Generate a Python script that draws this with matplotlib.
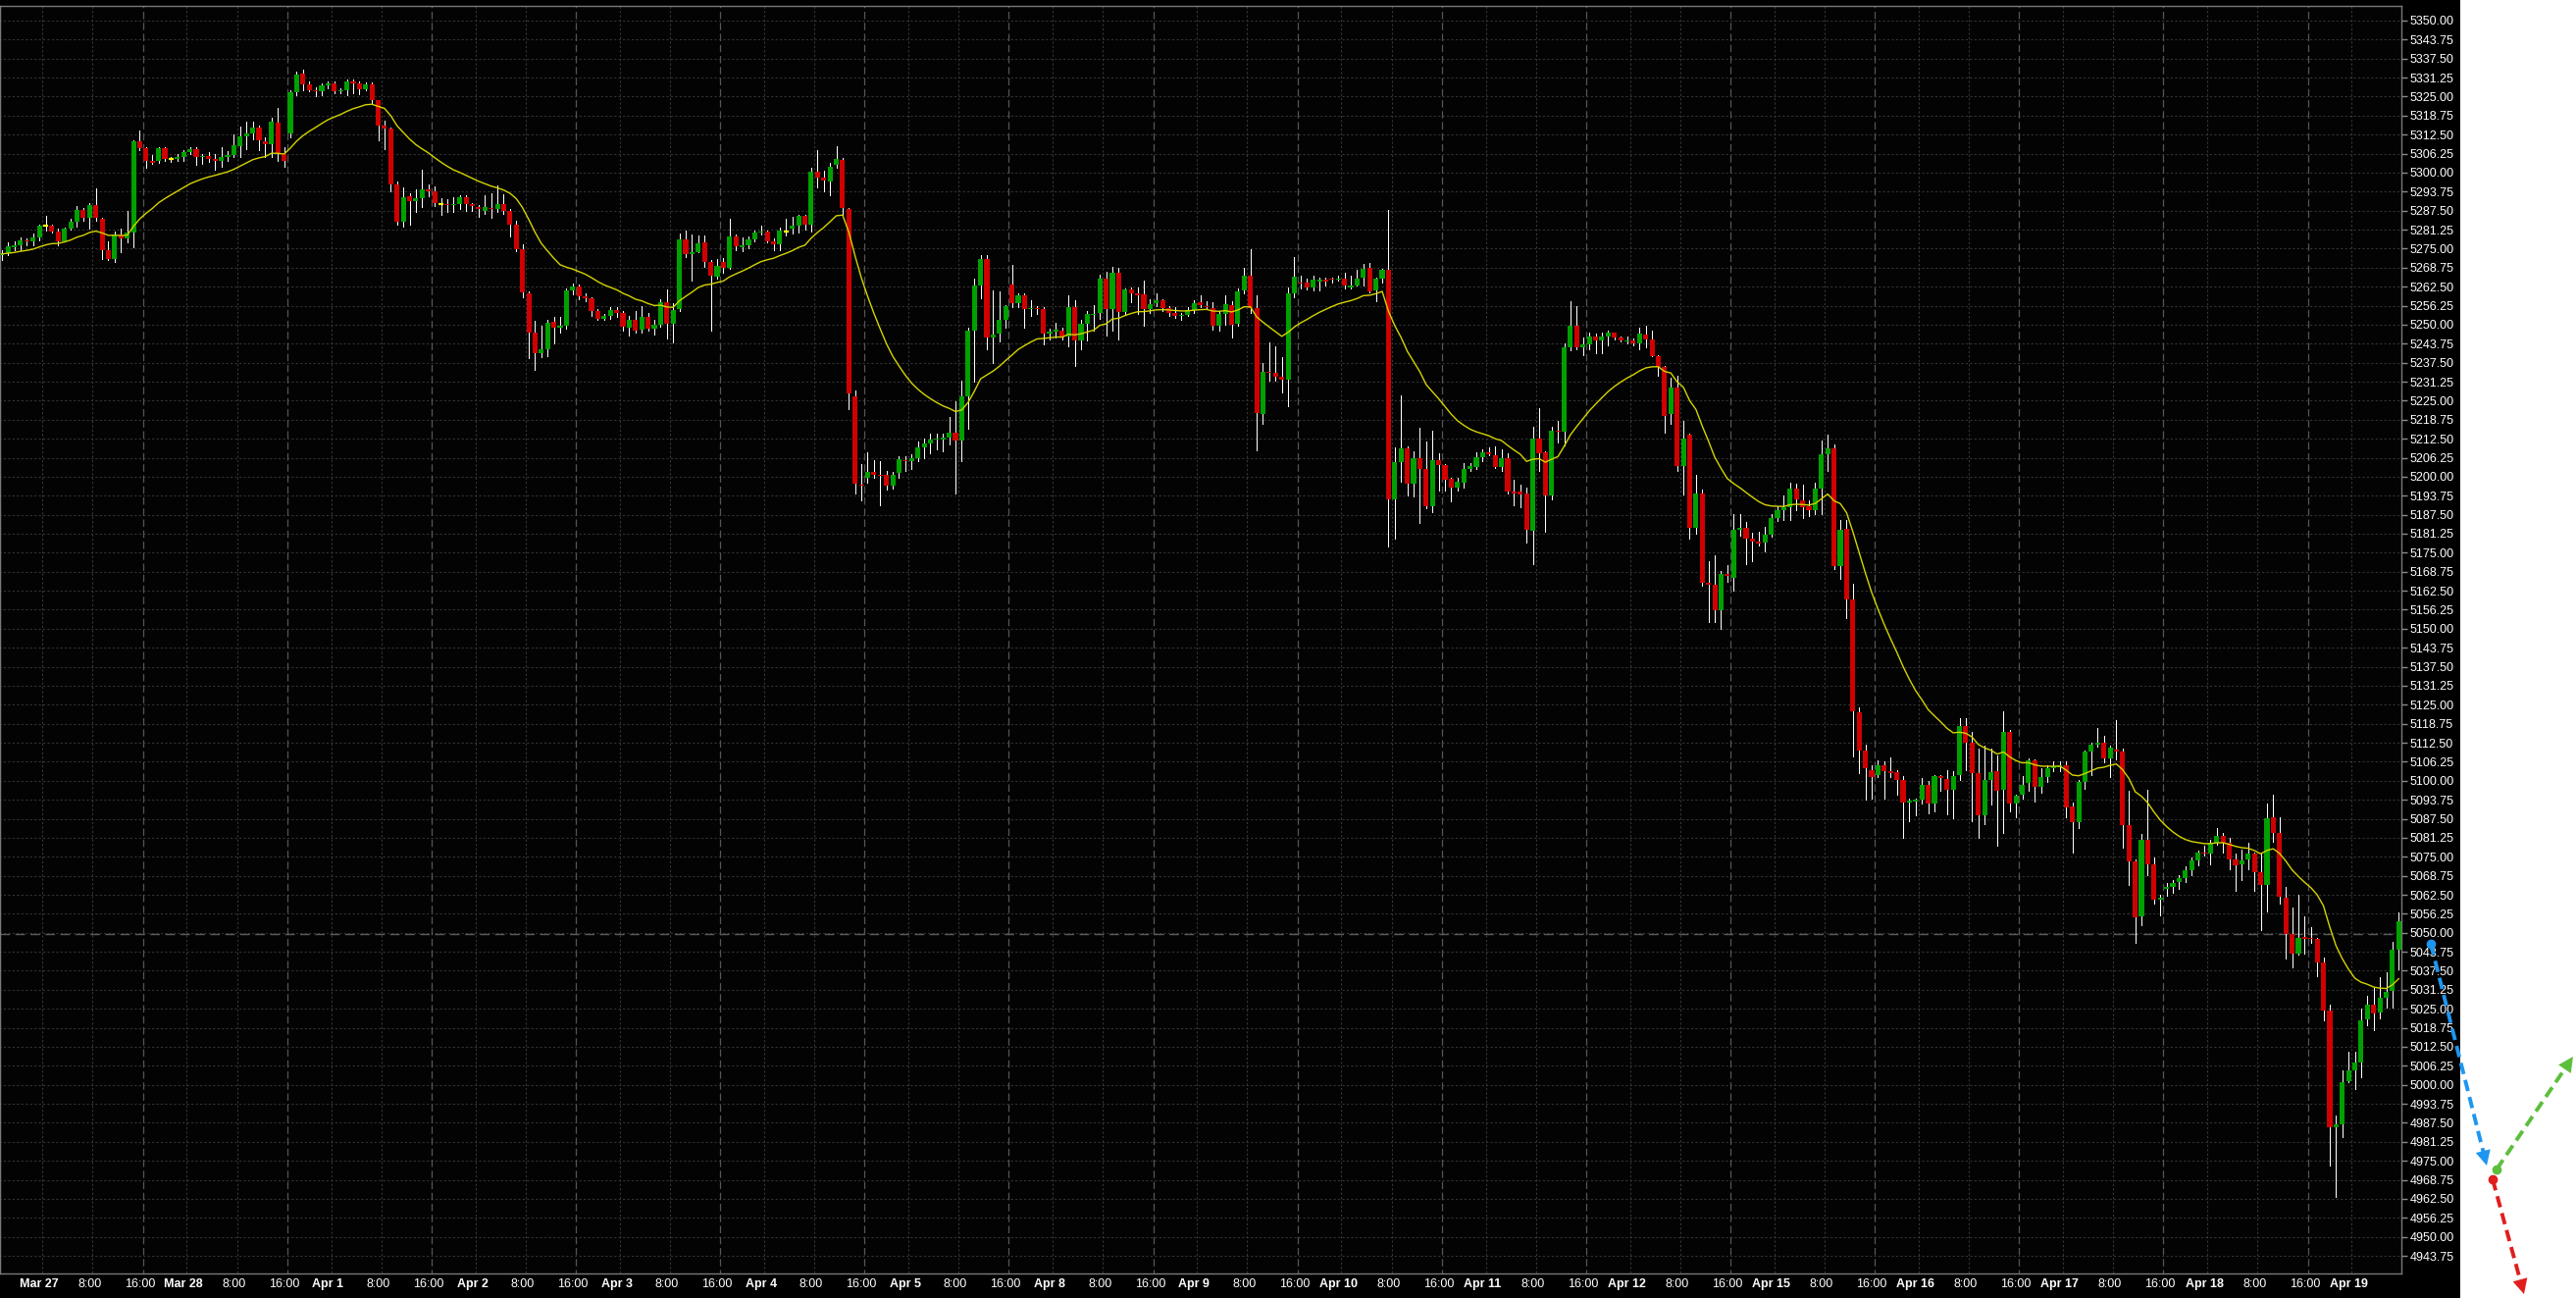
import numpy as np
import pandas as pd
import matplotlib
matplotlib.use("Agg")
import matplotlib.pyplot as plt
import matplotlib.transforms as mtransforms
from matplotlib.lines import Line2D
from matplotlib.patches import Rectangle, FancyArrowPatch

plt.rcParams["font.family"] = ["Liberation Sans", "DejaVu Sans"]

# hourly bars, 23 per session, first bar = 7 bars before "Mar 27" midnight
opens = [
    5272.75, 5273.5, 5275.5, 5276, 5277.75, 5277.25, 5278.75, 5282.5, 5282.5, 5280.5,
    5277.5, 5281.5, 5283.75, 5287.75, 5285, 5289.25, 5284.75, 5274.5, 5271.75, 5279.75,
    5278.5, 5280.25, 5310.25, 5308, 5304, 5304, 5308, 5304.5, 5304.5, 5305.25,
    5306.75, 5307.75, 5305, 5305.5, 5304.5, 5304, 5305.25, 5305.75, 5308.75, 5312,
    5312.75, 5314.75, 5310.25, 5309.5, 5316.5, 5306, 5313, 5326.5, 5332.5, 5329,
    5327.25, 5326.75, 5328.75, 5329.5, 5326.75, 5327, 5330, 5329.25, 5327.5, 5329,
    5323.75, 5315.5, 5314.5, 5296.25, 5284, 5292.25, 5290.5, 5291.75, 5294.5, 5294,
    5289.5, 5289.75, 5289.25, 5289.75, 5292, 5289.75, 5288.75, 5287.5, 5288.5, 5288,
    5289.5, 5287.5, 5283, 5274.75, 5260.25, 5247.25, 5240.5, 5242, 5251, 5249,
    5249.5, 5261.25, 5262.5, 5259.25, 5258.75, 5254.5, 5252, 5252.75, 5254.75, 5253.75,
    5249, 5251.5, 5248.25, 5252.5, 5248.75, 5250, 5257.5, 5250.25, 5255, 5278,
    5273.25, 5274, 5277, 5270.75, 5265.75, 5270.5, 5268.75, 5279, 5275.5, 5276.25,
    5278, 5280.25, 5280.5, 5277.25, 5276.5, 5280.75, 5281.5, 5282.5, 5285.75, 5283,
    5300.25, 5298.25, 5297, 5302.5, 5304.25, 5288, 5226.5, 5197.5, 5199.5, 5201.5,
    5200.75, 5200.75, 5197, 5201.25, 5205.5, 5205, 5206, 5209.5, 5211, 5212.25,
    5212.25, 5212.75, 5214.5, 5211.75, 5226.5, 5248, 5262.75, 5271.5, 5245.75, 5247,
    5251.5, 5263.25, 5257, 5259.5, 5255, 5255.5, 5255, 5247, 5247.75, 5248,
    5246, 5255.75, 5244.75, 5250.25, 5253.25, 5253.75, 5265, 5255, 5267, 5254.25,
    5261.5, 5260.25, 5260, 5255, 5257, 5258, 5255.5, 5254, 5252.75, 5253.25,
    5254.75, 5257.25, 5256.25, 5255.5, 5249.5, 5253.5, 5256.5, 5250.25, 5261.25, 5266,
    5255.5, 5220.75, 5234.5, 5234.25, 5233, 5231.75, 5260.25, 5264, 5263.75, 5262.25,
    5264.25, 5264.75, 5265, 5264.75, 5265, 5262.25, 5263, 5265.5, 5268.75, 5261.25,
    5265, 5268, 5192.5, 5204.75, 5209.25, 5197.75, 5206, 5202.5, 5190.25, 5205.5,
    5203.75, 5199.25, 5196.25, 5198, 5202.5, 5203.25, 5206.5, 5208, 5207, 5203.25,
    5206.25, 5195, 5195, 5194.5, 5182.25, 5212.5, 5208, 5193.75, 5215.25, 5214.75,
    5242.5, 5249.5, 5242.5, 5243.5, 5246, 5244.75, 5246, 5247.25, 5245.75, 5244.5,
    5244.75, 5244, 5246.75, 5245, 5239.75, 5236, 5220.5, 5229.25, 5203.5, 5213.75,
    5183.25, 5194.5, 5165.25, 5164.5, 5156, 5168, 5166.75, 5182.5, 5183.25, 5179.75,
    5178.75, 5178.25, 5181, 5186.5, 5189, 5190, 5196, 5192.25, 5190.25, 5189,
    5196, 5207.5, 5209.25, 5170.75, 5182.75, 5159.75, 5122.5, 5110, 5103.5, 5102,
    5105.25, 5103, 5102.75, 5100.25, 5092.75, 5093.25, 5093.75, 5098.5, 5092.5, 5101.5,
    5100.5, 5097, 5102, 5118, 5112.5, 5102.5, 5088.75, 5100.25, 5103, 5097,
    5116, 5092.5, 5095.5, 5099.25, 5106.75, 5098, 5101.25, 5104.25, 5104.5, 5105,
    5091.5, 5086.25, 5099.75, 5109.5, 5111.75, 5112.5, 5107.25, 5110.25, 5109.75, 5085.5,
    5073.5, 5055.25, 5080.5, 5072.5, 5061, 5064.5, 5065, 5066.75, 5068, 5070.5,
    5073.75, 5076.5, 5076, 5079.5, 5081.75, 5079.75, 5074, 5072.5, 5074, 5076,
    5070, 5065.75, 5088, 5082.75, 5061.5, 5049.75, 5043, 5048.5, 5048.25, 5048,
    5040.25, 5024.5, 4986, 4987, 5001.25, 5004.75, 5007.25, 5021.5, 5026.5, 5023.75,
    5028.5, 5030.75, 5044.5,
]
highs = [
    5274.5, 5277, 5277.25, 5278.75, 5278.5, 5280, 5283, 5285.75, 5283, 5281.5,
    5282, 5284.75, 5289, 5288.5, 5290, 5294.75, 5285.25, 5277.25, 5280.5, 5281.5,
    5287.5, 5310.75, 5314, 5308.5, 5305.75, 5308.5, 5308.5, 5305.25, 5306, 5307.5,
    5308.25, 5308.5, 5306, 5306.75, 5306.25, 5308.5, 5307, 5312.5, 5315, 5316.75,
    5316.75, 5315.5, 5311.5, 5318, 5321.25, 5308.5, 5327.25, 5333.25, 5333.75, 5330,
    5328, 5329.5, 5330, 5330, 5327.75, 5330.75, 5330.5, 5330, 5329.75, 5329.75,
    5324, 5317, 5314.75, 5297, 5295.25, 5293.25, 5294.5, 5301, 5296, 5295.5,
    5291.5, 5291.25, 5292, 5292.5, 5292.5, 5290, 5289.25, 5292.5, 5293.25, 5295.75,
    5292.75, 5288, 5284.25, 5276.5, 5261, 5251.25, 5249.5, 5251.5, 5252.5, 5252.5,
    5261.75, 5263.5, 5263.25, 5260.25, 5259, 5255, 5253.5, 5255.75, 5255.75, 5254.5,
    5252.75, 5254.5, 5256, 5253.75, 5251.5, 5258.5, 5261.5, 5257, 5280, 5281,
    5279.75, 5279.25, 5279.25, 5271.25, 5271.5, 5272, 5284.75, 5279.5, 5278.75, 5279,
    5281, 5282.5, 5281, 5278.25, 5282, 5284.75, 5285.5, 5286.25, 5286.25, 5301.5,
    5307.25, 5300.75, 5303.25, 5308.75, 5304.75, 5288.5, 5228.25, 5204, 5208, 5205.5,
    5205, 5202, 5201.5, 5206.75, 5206.75, 5207.5, 5211.5, 5212.5, 5214.25, 5214.25,
    5214, 5219.5, 5224.75, 5231.5, 5249, 5265, 5272.75, 5272.75, 5261.25, 5261,
    5256.5, 5269.5, 5260.25, 5260.25, 5258, 5256.25, 5255.75, 5248.75, 5250.5, 5249,
    5259.5, 5258, 5251.5, 5254.5, 5256.5, 5266.5, 5267.25, 5269, 5268.75, 5262,
    5262.25, 5262.25, 5264.5, 5258.5, 5260.25, 5258.5, 5256, 5255.75, 5254, 5255.75,
    5258, 5259.5, 5257.75, 5257.5, 5254.5, 5259.5, 5257.75, 5262, 5268.75, 5274.75,
    5259.5, 5237.5, 5244.25, 5242.75, 5239.25, 5262.25, 5272.25, 5266, 5265, 5266,
    5265.5, 5265.5, 5265.5, 5266.25, 5267, 5266, 5268, 5270, 5270.25, 5265.5,
    5268.5, 5287.75, 5209.5, 5226.75, 5210, 5208.25, 5216, 5211.5, 5215.25, 5207.75,
    5204.25, 5199.5, 5199.5, 5204.5, 5204.5, 5208, 5209, 5209.5, 5210, 5209,
    5207.75, 5199, 5197.5, 5196.5, 5216.5, 5222.5, 5208.5, 5216.5, 5218.5, 5244,
    5257.75, 5256.25, 5245.75, 5247.25, 5247, 5247.25, 5248, 5247.5, 5246.25, 5246,
    5245.5, 5249, 5249.5, 5248, 5240, 5236.5, 5232.5, 5233.25, 5218.5, 5214.25,
    5200.5, 5195.75, 5172.25, 5174, 5169, 5171, 5187.75, 5187.75, 5185.25, 5181.5,
    5181.75, 5183.5, 5187.75, 5190.25, 5193.75, 5198, 5197.75, 5197.5, 5192.25, 5198,
    5212, 5213.75, 5210.5, 5185.75, 5185.75, 5164.75, 5124.25, 5112, 5105, 5106.75,
    5106.25, 5107.75, 5103.5, 5101.5, 5094, 5094.25, 5101, 5100, 5102, 5102,
    5103.5, 5103, 5120.5, 5120.5, 5116, 5110.5, 5111.5, 5110.5, 5108.25, 5122.75,
    5116.75, 5095.5, 5101.5, 5107.25, 5107, 5104, 5105, 5106.25, 5106.25, 5106.25,
    5092.75, 5100.25, 5110, 5112.5, 5117.5, 5114.75, 5111.5, 5120, 5110.5, 5096.75,
    5074, 5082.5, 5097, 5074.75, 5062.5, 5066.5, 5067.5, 5069, 5071.75, 5074.75,
    5077, 5078.5, 5080.5, 5084.5, 5082.75, 5081.25, 5076, 5077.25, 5079.5, 5076.5,
    5076.5, 5092.5, 5095.5, 5088, 5065, 5058.25, 5062.5, 5055.5, 5051.75, 5048.25,
    5042, 5026.5, 4989.75, 5004.75, 5010.75, 5010.75, 5025, 5029.25, 5031.75, 5035.25,
    5037, 5047, 5056.75,
]
lows = [
    5271.25, 5273, 5274.5, 5274.5, 5276, 5276.25, 5277.75, 5281, 5280.25, 5276,
    5277.25, 5281.25, 5282.25, 5284.25, 5281.5, 5284.25, 5271.75, 5271.25, 5270.5, 5274,
    5277, 5275.5, 5307.25, 5301.5, 5302.75, 5303.25, 5304, 5303.5, 5303.75, 5304,
    5306, 5302.5, 5302.75, 5303.5, 5301, 5302, 5304, 5305.25, 5305, 5307.75,
    5311, 5307.5, 5305.25, 5305.25, 5304, 5302, 5311.5, 5325.5, 5327, 5326.75,
    5325, 5325.5, 5327.75, 5326, 5326.25, 5325.5, 5326, 5325.75, 5327.25, 5322.5,
    5310.5, 5307.75, 5294, 5283, 5282.25, 5283, 5287, 5288.75, 5292.25, 5289,
    5286.25, 5287, 5287, 5288, 5287.5, 5287.5, 5285.5, 5286.5, 5285, 5287,
    5286.5, 5279, 5274.25, 5259, 5239, 5235, 5239.25, 5239.5, 5243.75, 5247.5,
    5248.75, 5260, 5258.5, 5257.75, 5252.75, 5251.5, 5251.5, 5252, 5252.5, 5248,
    5246.5, 5247.5, 5247.5, 5248, 5246.75, 5249.25, 5245.5, 5244.25, 5254.5, 5272.25,
    5264.5, 5273.75, 5269, 5248, 5265, 5267, 5268.5, 5274.5, 5274.25, 5275.25,
    5277.5, 5279.75, 5277, 5274.5, 5274.5, 5279.25, 5280, 5280.25, 5281.25, 5280.5,
    5295.25, 5294, 5292.5, 5301.5, 5285.75, 5222.25, 5194.5, 5192.25, 5198, 5199.5,
    5190.5, 5195.75, 5196, 5199.5, 5202, 5202.5, 5205.25, 5206.25, 5207.75, 5209,
    5208.25, 5210.75, 5194.5, 5205.25, 5215.75, 5231.25, 5258.75, 5241.75, 5237.25, 5244.5,
    5249, 5255.75, 5255.75, 5249, 5252.75, 5253.5, 5243.5, 5245, 5245.75, 5245,
    5243, 5236.5, 5241.75, 5244.75, 5248, 5252, 5246.5, 5248, 5245, 5253.5,
    5257.5, 5253.5, 5249.5, 5253.75, 5256, 5254.5, 5253, 5252.25, 5251.5, 5252.75,
    5254, 5255.75, 5255.25, 5248.25, 5248, 5250, 5245.75, 5249.75, 5260.25, 5253.75,
    5208.75, 5217.25, 5231.5, 5231.5, 5227.75, 5223.25, 5259, 5262, 5261.5, 5261.25,
    5261.25, 5262.75, 5263.75, 5264.5, 5262, 5262, 5262.75, 5263, 5260.5, 5257.75,
    5264, 5177, 5179.5, 5198.5, 5193.75, 5193.5, 5184.75, 5189.5, 5188.5, 5195.5,
    5195.5, 5192, 5195.5, 5196.5, 5202, 5202.5, 5205.25, 5207, 5203, 5202,
    5194.5, 5190.5, 5190, 5178.5, 5171.25, 5202, 5181.75, 5192.5, 5211.25, 5210.25,
    5241.5, 5241.75, 5240, 5242, 5240.5, 5240.5, 5243.25, 5245.25, 5244.5, 5243.75,
    5243.25, 5241.75, 5242.5, 5239.5, 5233.25, 5214.5, 5217.25, 5202, 5194, 5179.5,
    5181.25, 5164.25, 5152.25, 5152.25, 5150, 5165.5, 5162.5, 5180.5, 5171.25, 5172.25,
    5177.5, 5175.5, 5180.25, 5185.5, 5185.75, 5185.75, 5189, 5186.5, 5187, 5187.75,
    5187.75, 5202, 5169.75, 5166.5, 5153.5, 5108, 5102.5, 5093.75, 5094, 5101.25,
    5094, 5101.25, 5095.5, 5081.25, 5086.75, 5088.5, 5092.5, 5089.25, 5090, 5096.75,
    5089, 5087.75, 5100.25, 5103.5, 5086.75, 5081.25, 5085.75, 5092.25, 5078.5, 5082.75,
    5090, 5088, 5094, 5096.75, 5093.25, 5096, 5099.75, 5103.25, 5103.25, 5088,
    5076.5, 5084.5, 5097.5, 5102, 5111.25, 5106, 5101.25, 5107, 5078, 5065.75,
    5046.75, 5052.5, 5069, 5059.5, 5055.75, 5062.25, 5063, 5064.5, 5066.75, 5069,
    5072.25, 5075.25, 5072.5, 5079, 5076.25, 5071, 5063.75, 5067.25, 5071, 5063.75,
    5050.75, 5057, 5080, 5059.5, 5041.5, 5038.5, 5042.75, 5043.25, 5046.75, 5035.75,
    5021.25, 4973.5, 4963.25, 4982.75, 5000.75, 4998.5, 5002.5, 5019.5, 5018, 5022,
    5025.25, 5025.25, 5038,
]
closes = [
    5273.25, 5275.75, 5276.25, 5277.75, 5277.25, 5278.75, 5282.5, 5282.5, 5280.75, 5277.5,
    5281.5, 5284, 5287.75, 5285, 5289.25, 5285, 5274.5, 5271.75, 5279.75, 5278.5,
    5280.25, 5310.25, 5308, 5304, 5303.25, 5308, 5304.5, 5304.5, 5305.25, 5306.75,
    5307.75, 5305.25, 5305.5, 5304.5, 5304, 5305.25, 5305.75, 5309, 5312, 5312.75,
    5314.75, 5310.5, 5309.5, 5316.75, 5306, 5304, 5326.5, 5332.25, 5329, 5327.25,
    5326.75, 5328.75, 5329.25, 5326.75, 5327, 5330, 5329.25, 5327.5, 5329, 5323.75,
    5315.5, 5314.5, 5296.25, 5284, 5292, 5290.5, 5291.75, 5294.5, 5294, 5290,
    5289.5, 5289.25, 5289.75, 5292, 5289.75, 5289, 5288, 5288.75, 5288, 5289.5,
    5287.5, 5283, 5274.75, 5260.5, 5247.25, 5240.5, 5242, 5250.5, 5249, 5249.5,
    5261.25, 5262.5, 5259.25, 5258.75, 5254.5, 5252, 5252.75, 5254.75, 5253.75, 5249.25,
    5251.5, 5248, 5252.5, 5248.75, 5250, 5257.5, 5250.25, 5254.75, 5278, 5273.25,
    5273.75, 5276.75, 5270.75, 5266, 5269.25, 5268.75, 5279, 5275.75, 5276.25, 5278,
    5280.25, 5280.5, 5277.25, 5276.5, 5281, 5280.75, 5282.5, 5285.75, 5283, 5300.25,
    5298.25, 5297.25, 5302, 5304.5, 5288.25, 5227.25, 5197.75, 5197, 5201.5, 5200.75,
    5200.25, 5197, 5200.75, 5205.75, 5205, 5206, 5209.5, 5211, 5212.25, 5212.5,
    5212.75, 5214.5, 5211.75, 5226.5, 5248, 5262.75, 5271.5, 5245.75, 5246.75, 5251.5,
    5256, 5257, 5259.5, 5255, 5255.5, 5255, 5247, 5247.75, 5248.25, 5245.75,
    5255.75, 5244.75, 5250.25, 5253.5, 5253.5, 5265, 5255, 5267, 5254.25, 5261.5,
    5260.25, 5259.5, 5255, 5256.75, 5258, 5255.5, 5254, 5252.75, 5253.25, 5254.75,
    5257, 5256.5, 5255.75, 5249.5, 5253.5, 5256.75, 5250, 5261, 5266, 5255.5,
    5221, 5234.5, 5234, 5233, 5231.75, 5260.25, 5265.75, 5263.5, 5262.25, 5264.75,
    5264.75, 5264.25, 5264.75, 5265, 5262.75, 5262.75, 5265.25, 5268.5, 5261, 5265,
    5268, 5192.5, 5204.75, 5209.25, 5197.75, 5206, 5202.5, 5190.25, 5205.5, 5203.75,
    5199, 5196.25, 5198.25, 5202.5, 5203.5, 5206.5, 5208, 5207.25, 5203.25, 5206.25,
    5195, 5194.5, 5194.25, 5182.5, 5212.5, 5207.75, 5193.75, 5215, 5214.75, 5242.5,
    5249.5, 5242.5, 5243.5, 5246, 5244.75, 5246, 5247.25, 5245.75, 5244.75, 5244.75,
    5244, 5247, 5245, 5239.75, 5236.25, 5220, 5229.25, 5203.5, 5212.5, 5183.25,
    5194.5, 5165, 5164.5, 5156, 5168, 5167.25, 5182.5, 5183.25, 5179.75, 5178.75,
    5178, 5181, 5186.5, 5189, 5190, 5196, 5192.5, 5190, 5189, 5196,
    5207.5, 5209.25, 5170.75, 5182.5, 5159.75, 5122.75, 5110, 5104, 5101.25, 5105.25,
    5103, 5102.5, 5100.25, 5092.75, 5093.5, 5093.75, 5098.5, 5092.5, 5101.5, 5101,
    5097, 5101.5, 5118, 5112.5, 5102.5, 5088.5, 5100.25, 5102.75, 5096.75, 5116,
    5092.5, 5095, 5098.75, 5106.75, 5098, 5101.25, 5104, 5104.75, 5105.25, 5091.25,
    5086.25, 5099.5, 5109.5, 5111.75, 5112.5, 5107.25, 5111, 5109.75, 5085.5, 5073.5,
    5055, 5080.5, 5072.5, 5061, 5061.5, 5065, 5066.5, 5068, 5070.5, 5073.75,
    5076.5, 5076, 5079.5, 5082, 5079.75, 5074, 5072.25, 5073.75, 5076, 5070,
    5065.75, 5087.75, 5082.75, 5061.75, 5049.75, 5043, 5048.25, 5048, 5048, 5040.25,
    5024.5, 4986, 4987, 5001, 5004.75, 5007.25, 5021.25, 5026.5, 5023.5, 5028.5,
    5030.5, 5044.5, 5053.75,
]

day_labels = ["Mar 27", "Mar 28", "Apr 1", "Apr 2", "Apr 3", "Apr 4", "Apr 5", "Apr 8",
              "Apr 9", "Apr 10", "Apr 11", "Apr 12", "Apr 15", "Apr 16", "Apr 17",
              "Apr 18", "Apr 19"]
hour_labels = ["8:00", "16:00"]
ema_span = 20
marker_price = 5049.5

W, H = 2626, 1323
fig = plt.figure(figsize=(W / 100, H / 100), dpi=100, facecolor="white")
fig.add_artist(Rectangle((0, 0), 2508 / W, 1, transform=fig.transFigure,
                         facecolor="black", edgecolor="none", zorder=-5))
ax = fig.add_axes([0, 1 - 1298 / H, 2448 / W, 1292 / H])
ax.set_facecolor("#030303")

o = np.array(opens)
h = np.array(highs)
l = np.array(lows)
c = np.array(closes)
x = np.arange(len(c))

# grid
yt = np.arange(4943.75, 5350.01, 6.25)
ax.hlines(yt, -1, 400, colors="#333333", lw=0.8, linestyles=(0, (2, 2)), zorder=1)
n_days = len(day_labels)
mid = 6.5 + 23 * np.arange(n_days)
eight = 14.5 + 23 * np.arange(n_days - 1)
sixteen = 22.5 + 23 * np.arange(n_days - 1)
ax.vlines(np.concatenate([mid, eight]), 4900, 5400, colors="#363636", lw=0.8,
          linestyles=(0, (2, 2)), zorder=1)
ax.vlines(sixteen, 4900, 5400, colors="#555555", lw=0.9,
          linestyles=(0, (6, 3)), zorder=1)
ax.axhline(marker_price, color="#5a5a5a", lw=1, ls=(0, (7, 4)), zorder=1)

# candles
up = c > o
dn = c < o
flat = c == o
ax.vlines(x, l, h, color="white", lw=0.5, antialiased=False, zorder=2)
ax.bar(x[up], (c - o)[up], bottom=o[up], width=0.8, color="#00a000", lw=0, zorder=3)
ax.bar(x[dn], (o - c)[dn], bottom=c[dn], width=0.8, color="#d00000", lw=0, zorder=3)
ax.hlines(c[flat], x[flat] - 0.4, x[flat] + 0.4, color="#ffff00", lw=1.6, zorder=3)

ma = pd.Series(closes).ewm(span=ema_span, adjust=False).mean()
ax.plot(x, ma, color="#d4d400", lw=1.0, zorder=4)

ax.set_xlim(-0.27, 382.42)
ax.set_ylim(4937.95, 5354.84)

ax.set_yticks(yt)
ax.set_yticklabels([f"{v:.2f}" for v in yt])
ax.yaxis.tick_right()
ax.tick_params(axis="y", colors="#8a8a8a", labelcolor="white", length=4, width=1,
               pad=2, labelsize=9)
ax.set_xticks([])
for s in ax.spines.values():
    s.set_color("#7a7a7a")
    s.set_linewidth(1)

# time axis labels
tr = mtransforms.blended_transform_factory(ax.transData, ax.transAxes)
for d, lab in enumerate(day_labels):
    ax.text(mid[d] - 0.5, -0.0085, lab, transform=tr, ha="center", va="center",
            color="white", fontsize=9, fontweight="bold", clip_on=False)
for xp in eight:
    ax.text(xp - 0.5, -0.0085, hour_labels[0], transform=tr, ha="center", va="center",
            color="white", fontsize=9, clip_on=False)
for xp in sixteen:
    ax.text(xp - 0.5, -0.0085, hour_labels[1], transform=tr, ha="center", va="center",
            color="white", fontsize=9, clip_on=False)


def fig_pt(px, py):
    return (px / W, 1 - py / H)


# scenario arrows in the right margin (figure pixels)
arrows = [((2478, 962), (2535, 1188), "#1e96f0"),
          ((2545, 1192), (2623, 1077), "#5cbf3c"),
          ((2541, 1202), (2573, 1319), "#e01e1e")]
for (sx, sy), (ex, ey), col in arrows:
    v = np.array([ex - sx, ey - sy], dtype=float)
    u = v / np.hypot(*v)
    p0 = fig_pt(sx, sy)
    p1 = fig_pt(ex - 12 * u[0], ey - 12 * u[1])
    fig.add_artist(Line2D([p0[0], p1[0]], [p0[1], p1[1]], transform=fig.transFigure,
                          color=col, lw=2.8, ls=(0, (3, 1.6)), zorder=20))
    fig.add_artist(Line2D([p0[0]], [p0[1]], transform=fig.transFigure, marker="o",
                          ms=6, color=col, zorder=21))
    fig.add_artist(FancyArrowPatch(fig_pt(ex - 16 * u[0], ey - 16 * u[1]), fig_pt(ex, ey),
                                   transform=fig.transFigure,
                                   arrowstyle="-|>,head_length=0.5,head_width=0.25",
                                   mutation_scale=22, color=col, lw=0,
                                   shrinkA=0, shrinkB=0, zorder=21))

fig.savefig("out.png", dpi=100, facecolor=fig.get_facecolor())
